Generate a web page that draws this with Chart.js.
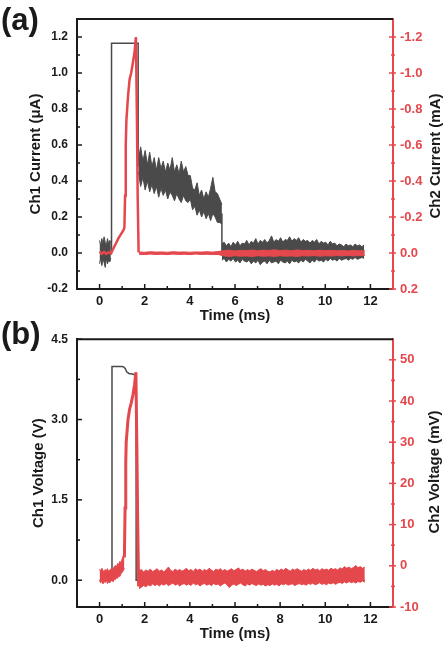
<!DOCTYPE html>
<html>
<head>
<meta charset="utf-8">
<script src="https://cdn.jsdelivr.net/npm/chart.js@4.4.1/dist/chart.umd.min.js"></script>
<style>
  html, body { margin: 0; padding: 0; background: #fff; }
  #lienzo { position: relative; width: 443px; height: 646px; overflow: hidden; font-family: 'Liberation Sans', Arial, sans-serif; }
  canvas { position: absolute; left: 0; }
  .panel { position: absolute; left: 1px; font-weight: bold; font-size: 31px; line-height: 31px; color: #1a1a1a; }
  .tituloDer { position: absolute; white-space: nowrap; font-weight: bold; font-size: 15px; line-height: 15px; color: #1a1a1a;
               transform: translate(-50%, -50%) rotate(-90deg); }
</style>
</head>
<body>
<div id="lienzo">
  <canvas id="graficaA" width="443" height="323" style="top:0"></canvas>
  <canvas id="graficaB" width="443" height="323" style="top:323px"></canvas>
  <div class="panel" style="top:4px">(a)</div>
  <div class="panel" style="top:318px">(b)</div>
  <div class="tituloDer" style="left:434px; top:156px">Ch2 Current (mA)</div>
  <div class="tituloDer" style="left:433px; top:472px">Ch2 Voltage (mV)</div>
</div>
<script>
'use strict';

const NEGRO = '#1a1a1a';
const GRIS = '#4a4a4a';
const ROJO = '#e4474c';

// Marcas de los ejes
const tiempoTicks = [0, 2, 4, 6, 8, 10, 12];
const tiempoMenores = [1, 3, 5, 7, 9, 11];
const corrCh1Ticks = [-0.2, 0, 0.2, 0.4, 0.6, 0.8, 1.0, 1.2];
const corrCh1Menores = [-0.1, 0.1, 0.3, 0.5, 0.7, 0.9, 1.1];
const corrCh2Ticks = [0.2, 0, -0.2, -0.4, -0.6, -0.8, -1.0, -1.2];
const corrCh2Menores = [0.1, -0.1, -0.3, -0.5, -0.7, -0.9, -1.1];
const voltCh1Ticks = [0, 1.5, 3.0, 4.5];
const voltCh1Menores = [0.75, 2.25, 3.75];
const voltCh2Ticks = [-10, 0, 10, 20, 30, 40, 50];
const voltCh2Menores = [-5, 5, 15, 25, 35, 45];

// (a) Ch1 corriente (uA): ruido inicial, t = 0 .. 0.5 cada 0.05 ms
const ch1aInicioAlto = [0.07, 0.04, 0.08, 0.05, 0.09, 0.06, 0.04, 0.08, 0.05, 0.07, 0.06];
const ch1aInicioBajo = [-0.06, -0.03, -0.07, -0.04, -0.05, -0.08, -0.03, -0.06, -0.04, -0.05, -0.03];
// pulso rectangular
const ch1aPulsoT = [0.5, 0.53, 0.53, 1.71, 1.71];
const ch1aPulsoV = [0.0, 0.0, 1.165, 1.165, 0.48];
// meseta ruidosa, t = 1.72 .. 5.42 cada 0.1 ms
const ch1aMesetaAlto = [0.52, 0.59, 0.51, 0.57, 0.49, 0.56, 0.48, 0.53, 0.46, 0.53,
                        0.47, 0.51, 0.45, 0.50, 0.46, 0.53, 0.45, 0.49, 0.44, 0.51,
                        0.45, 0.48, 0.43, 0.43, 0.36, 0.35, 0.39, 0.32, 0.35, 0.30,
                        0.34, 0.31, 0.36, 0.42, 0.34, 0.33, 0.30, 0.27];
const ch1aMesetaBajo = [0.45, 0.37, 0.42, 0.35, 0.40, 0.34, 0.38, 0.33, 0.37, 0.31,
                        0.36, 0.32, 0.35, 0.30, 0.34, 0.32, 0.29, 0.33, 0.30, 0.28,
                        0.32, 0.29, 0.28, 0.30, 0.24, 0.26, 0.21, 0.24, 0.20, 0.23,
                        0.19, 0.22, 0.18, 0.22, 0.20, 0.17, 0.17, 0.16];
const ch1aCaidaT = [5.42, 5.42];
const ch1aCaidaV = [0.22, 0.0];
// ruido final, t = 5.42 .. 11.72 cada 0.1 ms
const ch1aFinalAlto = [0.05, 0.06, 0.04, 0.055, 0.035, 0.06, 0.045, 0.065, 0.04, 0.055,
                       0.05, 0.07, 0.045, 0.065, 0.055, 0.08, 0.05, 0.07, 0.06, 0.075,
                       0.055, 0.07, 0.095, 0.06, 0.075, 0.065, 0.085, 0.06, 0.075, 0.07,
                       0.09, 0.065, 0.08, 0.07, 0.085, 0.06, 0.075, 0.065, 0.07, 0.055,
                       0.07, 0.06, 0.075, 0.05, 0.065, 0.055, 0.06, 0.045, 0.065, 0.05,
                       0.055, 0.04, 0.05, 0.045, 0.035, 0.05, 0.04, 0.045, 0.035, 0.05,
                       0.04, 0.045, 0.035, 0.045];
const ch1aFinalBajo = [-0.04, -0.03, -0.05, -0.035, -0.045, -0.03, -0.05, -0.04, -0.055, -0.035,
                       -0.045, -0.05, -0.04, -0.06, -0.045, -0.055, -0.04, -0.065, -0.05, -0.045,
                       -0.06, -0.04, -0.055, -0.05, -0.045, -0.06, -0.04, -0.05, -0.055, -0.045,
                       -0.06, -0.04, -0.05, -0.045, -0.055, -0.04, -0.05, -0.035, -0.045, -0.055,
                       -0.04, -0.05, -0.035, -0.045, -0.04, -0.05, -0.035, -0.045, -0.03, -0.04,
                       -0.035, -0.045, -0.03, -0.04, -0.035, -0.03, -0.04, -0.03, -0.035, -0.025,
                       -0.035, -0.03, -0.025, -0.03];

// (a) Ch2 corriente (mA), eje invertido
const ch2aT = [0, 0.1, 0.2, 0.3, 0.4, 0.5, 0.55, 0.65, 0.75, 0.85, 0.95, 1.05, 1.1,
               1.13, 1.16, 1.19, 1.26, 1.33, 1.4, 1.48, 1.55, 1.61, 1.65, 1.69, 1.73];
const ch2aV = [-0.008, 0.004, -0.006, 0.005, -0.004, 0.003, -0.01, -0.035, -0.06, -0.085, -0.105, -0.125, -0.14,
               -0.32, -0.6, -0.74, -0.87, -0.965, -1.0, -1.06, -1.115, -1.2, -0.8, -0.3, -0.003];
// t = 1.75 .. 11.75 cada 0.25 ms
const ch2aFinalArriba = [-0.006, -0.004, -0.007, -0.005, -0.006, -0.004, -0.007, -0.005, -0.006, -0.004,
                         -0.006, -0.005, -0.007, -0.005, -0.008, -0.013, -0.016, -0.011, -0.015, -0.013,
                         -0.017, -0.012, -0.016, -0.014, -0.018, -0.013, -0.016, -0.012, -0.017, -0.014,
                         -0.015, -0.012, -0.016, -0.013, -0.015, -0.012, -0.014, -0.011, -0.015, -0.012,
                         -0.013];
const ch2aFinalAbajo = [0.007, 0.009, 0.006, 0.008, 0.007, 0.009, 0.006, 0.008, 0.007, 0.009,
                        0.006, 0.008, 0.007, 0.009, 0.008, 0.016, 0.019, 0.015, 0.018, 0.016,
                        0.02, 0.015, 0.018, 0.016, 0.019, 0.015, 0.018, 0.016, 0.019, 0.015,
                        0.017, 0.014, 0.018, 0.015, 0.017, 0.014, 0.016, 0.013, 0.016, 0.014,
                        0.015];

// (b) Ch1 tension (V)
const ch1bT = [0, 0.55, 0.55, 1.0, 1.08, 1.14, 1.2, 1.3, 1.45, 1.6, 1.62, 1.62, 11.75];
const ch1bV = [0, 0, 3.99, 3.99, 3.98, 3.95, 3.89, 3.86, 3.85, 3.83, 3.83, 0, 0];

// (b) Ch2 tension (mV): t = 0 .. 1.1 cada 0.05 ms
const ch2bInicioAlto = [-0.8, -1.3, -0.6, -1.1, -1.5, -0.9, -1.2, -0.7, -1.4, -1.0, -0.8, -0.6,
                        -1.0, -0.2, 0.1, -0.3, 0.6, 0.3, 1.1, 0.8, 1.7, 2.4, 3.3];
const ch2bInicioBajo = [-3.6, -4.2, -3.5, -4.4, -3.8, -4.1, -3.4, -4.3, -3.9, -4.2, -3.7, -3.5,
                        -3.9, -3.2, -3.4, -2.9, -3.0, -2.4, -2.6, -1.9, -1.6, -1.2, -0.6];
const ch2bPulsoT = [1.1, 1.13, 1.16, 1.18, 1.26, 1.33, 1.40, 1.48, 1.55, 1.61, 1.65, 1.69, 1.73];
const ch2bPulsoV = [2.0, 14, 25, 30, 35.5, 38, 39.5, 41.5, 44, 47, 30, 10, -5.0];
// t = 1.75 .. 11.75 cada 0.1 ms
const ch2bFinalAlto = [-1.2, -0.9, -1.5, -1.0, -1.3, -0.8, -1.4, -1.1, -0.7, -1.3,
                       -1.0, -1.5, -0.9, -0.3, -1.1, -1.4, -0.8, -1.2, -0.9, -1.3,
                       -1.0, -0.6, -1.2, -0.9, -1.4, -0.7, -1.1, -0.8, -1.3, -0.9,
                       -1.2, -0.6, -1.0, -1.4, -0.8, -1.1, -0.7, -1.2, -0.9, -1.3,
                       -1.0, -0.7, -1.2, -0.9, -0.5, -1.1, -0.8, -1.3, -0.9, -1.2,
                       -0.8, -1.1, -1.4, -1.0, -0.7, -1.2, -0.9, -1.3, -1.5, -1.1,
                       -1.4, -0.9, -1.2, -0.8, -1.1, -0.6, -1.0, -1.3, -0.8, -1.1,
                       -0.7, -1.0, -1.3, -0.9, -1.2, -0.8, -1.1, -0.6, -1.0, -0.8,
                       -1.2, -0.7, -1.0, -0.8, -1.1, -0.6, -0.9, -0.7, -1.0, -0.5,
                       -0.8, -0.2, -0.6, -0.3, -0.7, -0.4, 0.1, -0.5, -0.2, -0.6,
                       -0.3];
const ch2bFinalBajo = [-5.6, -5.2, -4.8, -5.1, -4.6, -4.9, -4.4, -4.8, -4.5, -4.9,
                       -4.4, -4.7, -4.3, -4.8, -4.5, -4.2, -4.7, -4.4, -4.9, -4.5,
                       -4.3, -4.7, -4.4, -4.8, -4.2, -4.6, -4.4, -4.9, -4.5, -4.3,
                       -4.7, -4.4, -4.8, -4.3, -4.6, -4.4, -4.9, -4.5, -4.2, -4.6,
                       -5.3, -4.7, -4.4, -4.8, -4.5, -4.2, -4.6, -4.9, -4.4, -4.7,
                       -4.3, -4.6, -4.8, -4.4, -4.7, -4.5, -4.9, -4.6, -4.8, -4.4,
                       -4.7, -4.5, -4.9, -4.4, -4.6, -4.3, -4.7, -4.5, -4.4, -4.8,
                       -4.5, -4.3, -4.6, -4.4, -4.7, -4.3, -4.5, -4.2, -4.6, -4.4,
                       -4.1, -4.5, -4.3, -4.6, -4.2, -4.4, -4.1, -4.5, -4.2, -4.0,
                       -4.3, -3.9, -4.2, -3.8, -4.1, -3.9, -4.2, -3.8, -4.0, -3.7,
                       -4.0];

Chart.defaults.font.family = "'Liberation Sans', Arial, sans-serif";
Chart.defaults.font.weight = 'bold';
Chart.defaults.color = NEGRO;

const puntos = (ts, vs) => vs.map((v, i) => ({ x: ts[i], y: v }));
const serie = (t0, paso, vs) => vs.map((v, i) => ({ x: Math.round((t0 + i * paso) * 1000) / 1000, y: v }));

function linea(data, color, ancho, eje) {
    return { data, borderColor: color, borderWidth: ancho, pointRadius: 0, fill: false, yAxisID: eje };
}

// dos datasets: el de arriba rellena hasta el siguiente
function banda(alto, bajo, color, eje) {
    return [
        { data: alto, borderColor: color, backgroundColor: color, borderWidth: 1, pointRadius: 0, fill: '+1', yAxisID: eje },
        { data: bajo, borderColor: color, borderWidth: 1, pointRadius: 0, fill: false, yAxisID: eje }
    ];
}

// marcas hacia dentro y borde superior
const marcasEjes = {
    id: 'marcasEjes',
    afterDraw(chart, args, o) {
        const { ctx, chartArea: a, scales } = chart;
        const raya = (x1, y1, x2, y2) => { ctx.beginPath(); ctx.moveTo(x1, y1); ctx.lineTo(x2, y2); ctx.stroke(); };
        ctx.save();
        ctx.strokeStyle = NEGRO;
        ctx.lineWidth = 2;
        raya(a.left - 1, a.top, a.right, a.top);
        ctx.lineWidth = 1.5;
        o.xMayores.forEach(v => { const p = scales.x.getPixelForValue(v); raya(p, a.bottom, p, a.bottom - 5); });
        o.xMenores.forEach(v => { const p = scales.x.getPixelForValue(v); raya(p, a.bottom, p, a.bottom - 3); });
        o.yMayores.forEach(v => { const p = scales.y.getPixelForValue(v); raya(a.left, p, a.left + 5, p); });
        o.yMenores.forEach(v => { const p = scales.y.getPixelForValue(v); raya(a.left, p, a.left + 3, p); });
        ctx.strokeStyle = ROJO;
        o.y2Mayores.forEach(v => { const p = scales.y2.getPixelForValue(v); raya(a.right - 4, p, a.right + 3, p); });
        o.y2Menores.forEach(v => { const p = scales.y2.getPixelForValue(v); raya(a.right - 2, p, a.right + 2, p); });
        ctx.restore();
    }
};

function ejeX(alto, tituloPad) {
    return {
        type: 'linear', min: -1, max: 13,
        afterBuildTicks: s => { s.ticks = tiempoTicks.map(v => ({ value: v })); },
        afterFit: s => { s.height = alto; },
        grid: { display: false, drawTicks: false },
        border: { display: true, color: NEGRO, width: 2 },
        ticks: { padding: 5, autoSkip: false, maxRotation: 0, font: { size: 13 }, color: NEGRO, callback: v => String(v) },
        title: { display: true, text: 'Time (ms)', color: NEGRO, font: { size: 15, lineHeight: 1 }, padding: { top: 0, bottom: tituloPad } }
    };
}

function ejeY(min, max, marcas, formato, titulo, tituloPad) {
    return {
        type: 'linear', position: 'left', min, max,
        afterBuildTicks: s => { s.ticks = marcas.map(v => ({ value: v })); },
        afterFit: s => { s.width = 77; },
        grid: { display: false, drawTicks: false },
        border: { display: true, color: NEGRO, width: 2 },
        ticks: { padding: 9, autoSkip: false, font: { size: 12 }, color: NEGRO, callback: formato },
        title: { display: true, text: titulo, color: NEGRO, font: { size: 15, lineHeight: 1 }, padding: { top: tituloPad, bottom: 0 } }
    };
}

function ejeY2(min, max, marcas, formato, invertir) {
    return {
        type: 'linear', position: 'right', min, max, reverse: invertir,
        afterBuildTicks: s => { s.ticks = marcas.map(v => ({ value: v })); },
        afterFit: s => { s.width = 50; },
        grid: { display: false, drawTicks: false },
        border: { display: true, color: ROJO, width: 2 },
        ticks: { padding: 7, autoSkip: false, font: { size: 13 }, color: ROJO, callback: formato }
    };
}

function crearGrafica(idCanvas, datasets, arriba, escalas, marcas) {
    return new Chart(document.getElementById(idCanvas), {
        type: 'line',
        data: { datasets },
        options: {
            responsive: false,
            animation: false,
            events: [],
            layout: { padding: { top: arriba, left: 0, right: 0, bottom: 0 } },
            elements: { line: { tension: 0 }, point: { radius: 0 } },
            plugins: { legend: { display: false }, tooltip: { enabled: false }, marcasEjes: marcas },
            scales: escalas
        },
        plugins: [marcasEjes]
    });
}

const unDecimal = v => Number(v).toFixed(1);

// Grafica (a)
crearGrafica('graficaA', [
    linea(puntos(ch2aT, ch2aV), ROJO, 2.5, 'y2'),
    ...banda(serie(1.75, 0.25, ch2aFinalArriba), serie(1.75, 0.25, ch2aFinalAbajo), ROJO, 'y2'),
    ...banda(serie(0, 0.05, ch1aInicioAlto), serie(0, 0.05, ch1aInicioBajo), GRIS, 'y'),
    linea(puntos(ch1aPulsoT, ch1aPulsoV), GRIS, 1.5, 'y'),
    ...banda(serie(1.72, 0.1, ch1aMesetaAlto), serie(1.72, 0.1, ch1aMesetaBajo), GRIS, 'y'),
    linea(puntos(ch1aCaidaT, ch1aCaidaV), GRIS, 1.5, 'y'),
    ...banda(serie(5.42, 0.1, ch1aFinalAlto), serie(5.42, 0.1, ch1aFinalBajo), GRIS, 'y')
], 19, {
    x: ejeX(34, 0),
    y: ejeY(-0.2, 1.3, corrCh1Ticks, unDecimal, 'Ch1 Current (\u03bcA)', 28.5),
    y2: ejeY2(-1.3, 0.2, corrCh2Ticks, unDecimal, true)
}, {
    xMayores: tiempoTicks, xMenores: tiempoMenores,
    yMayores: corrCh1Ticks, yMenores: corrCh1Menores,
    y2Mayores: corrCh2Ticks, y2Menores: corrCh2Menores
});

// Grafica (b)
crearGrafica('graficaB', [
    ...banda(serie(0, 0.05, ch2bInicioAlto), serie(0, 0.05, ch2bInicioBajo), ROJO, 'y2'),
    linea(puntos(ch2bPulsoT, ch2bPulsoV), ROJO, 3, 'y2'),
    ...banda(serie(1.75, 0.1, ch2bFinalAlto), serie(1.75, 0.1, ch2bFinalBajo), ROJO, 'y2'),
    linea(puntos(ch1bT, ch1bV), GRIS, 1.5, 'y')
], 14, {
    x: ejeX(39, 5),
    y: ejeY(-0.5, 4.5, voltCh1Ticks, unDecimal, 'Ch1 Voltage (V)', 31.5),
    y2: ejeY2(-10, 55, voltCh2Ticks, v => String(v), false)
}, {
    xMayores: tiempoTicks, xMenores: tiempoMenores,
    yMayores: voltCh1Ticks, yMenores: voltCh1Menores,
    y2Mayores: voltCh2Ticks, y2Menores: voltCh2Menores
});
</script>
</body>
</html>
